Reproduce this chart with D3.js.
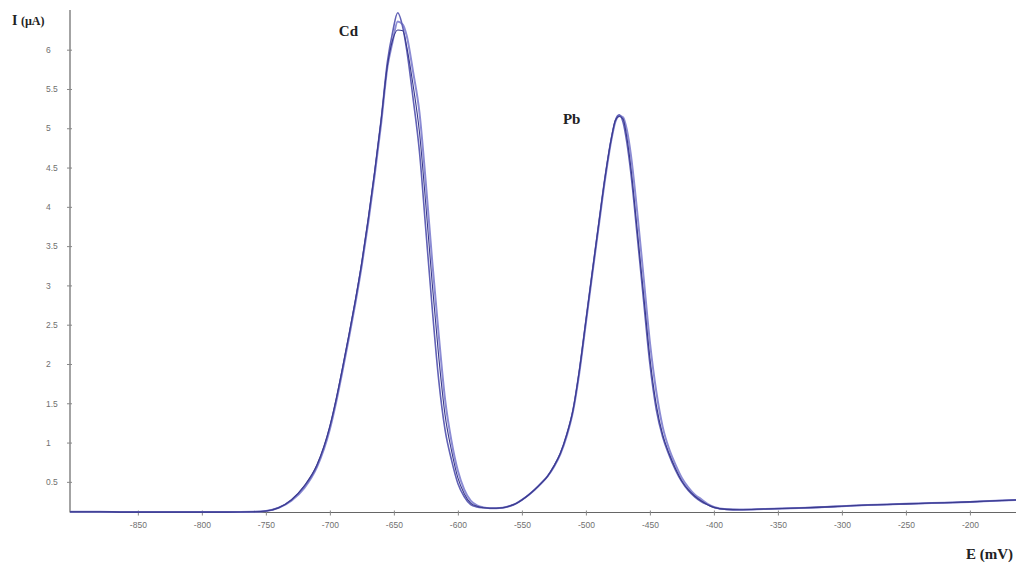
<!DOCTYPE html>
<html>
<head>
<meta charset="utf-8">
<script src="https://cdn.jsdelivr.net/npm/d3@7"></script>
<style>
  html, body { margin: 0; padding: 0; background: #fff; }
  svg { display: block; }
</style>
</head>
<body>
<svg id="chart" width="1016" height="565"></svg>
<script>
// Potential (mV)
const potentials = [-903,-880,-860,-840,-820,-800,-780,-760,-750,-740,-730,-720,-710,-700,-695,-690,-685,-680,-675,-670,-665,-660,-655,-651,-647,-643,-640,-635,-630,-625,-620,-615,-610,-605,-600,-595,-590,-585,-580,-575,-570,-565,-560,-555,-550,-545,-540,-535,-530,-525,-520,-515,-510,-505,-500,-495,-490,-485,-480,-477,-474,-471,-468,-465,-460,-455,-450,-445,-440,-435,-430,-425,-420,-415,-410,-405,-400,-390,-380,-360,-340,-320,-300,-280,-260,-240,-220,-200,-180,-164];

// Current (µA) — trace 1 (dark, lower Cd apex)
const current1 = [0.12,0.12,0.115,0.115,0.115,0.115,0.115,0.12,0.13,0.17,0.27,0.45,0.72,1.21,1.56,1.96,2.38,2.82,3.30,3.85,4.45,5.10,5.80,6.12,6.25,6.24,6.04,5.55,4.95,4.02,3.02,2.10,1.35,0.90,0.55,0.35,0.23,0.19,0.17,0.165,0.165,0.17,0.19,0.22,0.27,0.33,0.40,0.48,0.57,0.70,0.86,1.10,1.42,1.93,2.55,3.17,3.78,4.38,4.88,5.10,5.15,5.12,4.88,4.52,3.72,2.90,2.08,1.48,1.10,0.86,0.67,0.51,0.40,0.32,0.26,0.21,0.175,0.15,0.145,0.155,0.165,0.175,0.19,0.205,0.215,0.225,0.235,0.245,0.26,0.27];

// trace 2 (main, highest Cd apex)
const current2 = [0.12,0.12,0.115,0.115,0.115,0.115,0.115,0.12,0.13,0.17,0.27,0.44,0.71,1.20,1.55,1.95,2.37,2.81,3.29,3.84,4.44,5.10,5.85,6.22,6.47,6.28,6.00,5.38,4.70,3.70,2.70,1.80,1.16,0.78,0.48,0.31,0.21,0.18,0.17,0.165,0.165,0.17,0.19,0.22,0.27,0.33,0.40,0.48,0.57,0.70,0.86,1.10,1.42,1.93,2.55,3.17,3.78,4.38,4.88,5.10,5.17,5.08,4.82,4.45,3.65,2.82,2.00,1.42,1.07,0.84,0.65,0.50,0.39,0.31,0.25,0.21,0.175,0.15,0.145,0.155,0.165,0.175,0.19,0.205,0.215,0.225,0.235,0.245,0.26,0.27];

// trace 3 (light, shifted right on descending flanks)
const current3 = [0.12,0.12,0.115,0.115,0.115,0.115,0.115,0.12,0.13,0.17,0.26,0.42,0.69,1.17,1.52,1.92,2.34,2.78,3.26,3.80,4.40,5.05,5.78,6.10,6.36,6.32,6.18,5.72,5.20,4.30,3.30,2.38,1.55,1.02,0.64,0.40,0.26,0.20,0.175,0.165,0.165,0.17,0.19,0.22,0.27,0.33,0.40,0.48,0.57,0.69,0.85,1.08,1.40,1.90,2.52,3.14,3.75,4.35,4.86,5.08,5.16,5.14,4.98,4.68,3.95,3.12,2.28,1.65,1.20,0.92,0.72,0.55,0.43,0.34,0.28,0.22,0.18,0.152,0.147,0.155,0.165,0.175,0.19,0.205,0.215,0.225,0.235,0.245,0.26,0.27];

const xTicks = [-850,-800,-750,-700,-650,-600,-550,-500,-450,-400,-350,-300,-250,-200];
const yTicks = [0.5,1,1.5,2,2.5,3,3.5,4,4.5,5,5.5,6];
const peakLabels = ["Cd", "Pb"];

const svg = d3.select("#chart");
const mLeft = 70, mRight = 1016, mTop = 10, mBottom = 512.5;

const x = d3.scaleLinear().domain([-903, -164]).range([mLeft, mRight]);
const y = d3.scaleLinear().domain([0.11, 6.505]).range([mBottom, mTop]);

// clip
svg.append("defs").append("clipPath").attr("id", "clip")
  .append("rect").attr("x", mLeft).attr("y", 0).attr("width", mRight - mLeft).attr("height", mBottom + 1);

// axes
const yAxis = svg.append("g").attr("transform", `translate(${mLeft},0)`)
  .call(d3.axisLeft(y).tickValues(yTicks).tickSize(3).tickFormat(d => String(d)));
yAxis.select(".domain").attr("d", `M0,${mTop}V${mBottom}`).attr("stroke", "#666").attr("stroke-width", 1.2);
yAxis.selectAll(".tick line").attr("stroke", "#888").attr("x2", 2).attr("x1", -3);
yAxis.selectAll(".tick text")
  .attr("x", -24).attr("text-anchor", "start")
  .attr("font-family", "Liberation Sans, Arial, sans-serif").attr("font-size", 8.5).attr("fill", "#707070");

const xAxis = svg.append("g").attr("transform", `translate(0,${mBottom})`)
  .call(d3.axisBottom(x).tickValues(xTicks).tickSize(3).tickFormat(d => String(d)));
xAxis.select(".domain").attr("d", `M${mLeft},0H${mRight}`).attr("stroke", "#666").attr("stroke-width", 1.2);
xAxis.selectAll(".tick line").attr("stroke", "#888").attr("y1", -2).attr("y2", 3);
xAxis.selectAll(".tick text")
  .attr("y", 9)
  .attr("font-family", "Liberation Sans, Arial, sans-serif").attr("font-size", 8.5).attr("fill", "#707070");

// traces
const line = (vals) => d3.line()
  .x((d, i) => x(potentials[i]))
  .y(d => y(d))
  .curve(d3.curveMonotoneX)(vals);

const traces = [
  { vals: current3, color: "#8c8cd4", w: 2.0 },
  { vals: current2, color: "#6262b6", w: 1.6 },
  { vals: current1, color: "#3a3a8e", w: 1.1 }
];
const g = svg.append("g").attr("clip-path", "url(#clip)");
traces.forEach(t => {
  g.append("path").attr("d", line(t.vals))
    .attr("fill", "none").attr("stroke", t.color).attr("stroke-width", t.w)
    .attr("stroke-linejoin", "round");
});

// labels
const serif = "Liberation Serif, Times New Roman, serif";
const yt = svg.append("text").attr("x", 12).attr("y", 25)
  .attr("font-family", serif).attr("font-weight", "bold").attr("fill", "#222");
yt.append("tspan").attr("font-size", 14).text("I ");
yt.append("tspan").attr("font-size", 12).text("(µA)");

svg.append("text").attr("x", 1013).attr("y", 559).attr("text-anchor", "end")
  .attr("font-family", serif).attr("font-weight", "bold").attr("font-size", 15).attr("fill", "#222")
  .text("E (mV)");

const peakPos = [[-700, 6.18], [-525, 5.05]];
peakLabels.forEach((t, i) => {
  svg.append("text")
    .attr("x", x(peakPos[i][0]) + 9).attr("y", y(peakPos[i][1]))
    .attr("font-family", serif).attr("font-weight", "bold").attr("font-size", 15).attr("fill", "#222")
    .text(t);
});
</script>
</body>
</html>
